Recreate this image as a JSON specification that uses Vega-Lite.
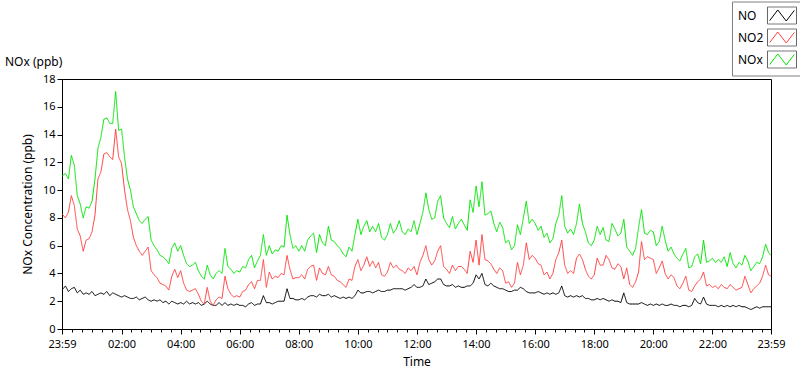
{
  "$schema": "https://vega.github.io/schema/vega-lite/v6.json",
  "width": 709,
  "height": 250,
  "autosize": "none",
  "padding": {"left": 62, "top": 79, "right": 29, "bottom": 40},
  "background": "white",
  "config": {
    "font": "Noto Sans",
    "view": {"stroke": "#000000", "strokeWidth": 1},
    "axis": {"labelFont": "Noto Sans", "titleFont": "Noto Sans", "labelColor": "#000", "titleColor": "#000", "tickColor": "#000", "domainColor": "#000", "grid": false, "labelFontSize": 11, "titleFontSize": 12, "titleFontWeight": "normal"}
  },
  "title": {"text": "NOx (ppb)", "anchor": "start", "frame": "group", "dx": -57, "offset": -67.5, "fontSize": 12, "fontWeight": "normal", "color": "#000", "font": "Noto Sans"},
  "data": {"values": [
    {"t":"2024-01-01T23:59","NO":2.8,"NO2":8.3,"NOx":11.0},
    {"t":"2024-01-02T00:06","NO":3.1,"NO2":8.0,"NOx":11.2},
    {"t":"2024-01-02T00:12","NO":2.7,"NO2":8.4,"NOx":10.8},
    {"t":"2024-01-02T00:18","NO":2.9,"NO2":9.6,"NOx":12.5},
    {"t":"2024-01-02T00:24","NO":3.0,"NO2":8.9,"NOx":11.8},
    {"t":"2024-01-02T00:30","NO":2.6,"NO2":7.2,"NOx":9.6},
    {"t":"2024-01-02T00:36","NO":2.8,"NO2":6.7,"NOx":9.0},
    {"t":"2024-01-02T00:42","NO":2.5,"NO2":5.6,"NOx":8.0},
    {"t":"2024-01-02T00:48","NO":2.6,"NO2":6.4,"NOx":8.8},
    {"t":"2024-01-02T00:54","NO":2.5,"NO2":6.5,"NOx":8.7},
    {"t":"2024-01-02T01:00","NO":2.7,"NO2":7.0,"NOx":9.2},
    {"t":"2024-01-02T01:06","NO":2.4,"NO2":8.2,"NOx":10.8},
    {"t":"2024-01-02T01:12","NO":2.5,"NO2":10.8,"NOx":13.0},
    {"t":"2024-01-02T01:18","NO":2.6,"NO2":11.3,"NOx":13.8},
    {"t":"2024-01-02T01:24","NO":2.5,"NO2":12.6,"NOx":15.1},
    {"t":"2024-01-02T01:30","NO":2.7,"NO2":12.7,"NOx":15.2},
    {"t":"2024-01-02T01:36","NO":2.4,"NO2":12.4,"NOx":14.8},
    {"t":"2024-01-02T01:42","NO":2.6,"NO2":12.2,"NOx":14.8},
    {"t":"2024-01-02T01:48","NO":2.5,"NO2":14.4,"NOx":17.1},
    {"t":"2024-01-02T01:54","NO":2.4,"NO2":12.4,"NOx":14.3},
    {"t":"2024-01-02T02:00","NO":2.3,"NO2":11.9,"NOx":14.4},
    {"t":"2024-01-02T02:06","NO":2.4,"NO2":10.0,"NOx":12.4},
    {"t":"2024-01-02T02:12","NO":2.3,"NO2":8.6,"NOx":10.8},
    {"t":"2024-01-02T02:18","NO":2.2,"NO2":7.8,"NOx":10.0},
    {"t":"2024-01-02T02:24","NO":2.2,"NO2":6.6,"NOx":8.8},
    {"t":"2024-01-02T02:30","NO":2.3,"NO2":6.0,"NOx":8.3},
    {"t":"2024-01-02T02:36","NO":2.1,"NO2":5.6,"NOx":7.8},
    {"t":"2024-01-02T02:42","NO":2.2,"NO2":5.3,"NOx":7.6},
    {"t":"2024-01-02T02:48","NO":2.3,"NO2":5.6,"NOx":7.9},
    {"t":"2024-01-02T02:54","NO":2.1,"NO2":5.9,"NOx":8.1},
    {"t":"2024-01-02T03:00","NO":2.0,"NO2":4.2,"NOx":6.4},
    {"t":"2024-01-02T03:06","NO":2.1,"NO2":3.9,"NOx":6.0},
    {"t":"2024-01-02T03:12","NO":2.0,"NO2":3.7,"NOx":5.7},
    {"t":"2024-01-02T03:18","NO":2.1,"NO2":3.3,"NOx":5.3},
    {"t":"2024-01-02T03:24","NO":1.9,"NO2":3.2,"NOx":5.2},
    {"t":"2024-01-02T03:30","NO":2.0,"NO2":3.1,"NOx":5.0},
    {"t":"2024-01-02T03:36","NO":1.8,"NO2":2.8,"NOx":4.7},
    {"t":"2024-01-02T03:42","NO":2.0,"NO2":3.8,"NOx":5.8},
    {"t":"2024-01-02T03:48","NO":1.9,"NO2":4.3,"NOx":6.2},
    {"t":"2024-01-02T03:54","NO":1.8,"NO2":3.7,"NOx":5.6},
    {"t":"2024-01-02T04:00","NO":1.9,"NO2":4.2,"NOx":6.0},
    {"t":"2024-01-02T04:06","NO":1.8,"NO2":3.3,"NOx":5.3},
    {"t":"2024-01-02T04:12","NO":2.0,"NO2":2.8,"NOx":4.7},
    {"t":"2024-01-02T04:18","NO":1.8,"NO2":2.7,"NOx":4.5},
    {"t":"2024-01-02T04:24","NO":1.9,"NO2":2.8,"NOx":4.6},
    {"t":"2024-01-02T04:30","NO":1.8,"NO2":2.9,"NOx":4.8},
    {"t":"2024-01-02T04:36","NO":1.9,"NO2":2.5,"NOx":4.2},
    {"t":"2024-01-02T04:42","NO":1.7,"NO2":2.0,"NOx":3.8},
    {"t":"2024-01-02T04:48","NO":1.8,"NO2":1.8,"NOx":3.6},
    {"t":"2024-01-02T04:54","NO":2.0,"NO2":3.0,"NOx":4.6},
    {"t":"2024-01-02T05:00","NO":1.8,"NO2":2.0,"NOx":3.9},
    {"t":"2024-01-02T05:06","NO":1.7,"NO2":1.7,"NOx":3.6},
    {"t":"2024-01-02T05:12","NO":1.7,"NO2":2.1,"NOx":4.0},
    {"t":"2024-01-02T05:18","NO":1.9,"NO2":2.3,"NOx":4.2},
    {"t":"2024-01-02T05:24","NO":1.7,"NO2":2.2,"NOx":4.0},
    {"t":"2024-01-02T05:30","NO":1.9,"NO2":3.8,"NOx":5.8},
    {"t":"2024-01-02T05:36","NO":1.7,"NO2":2.9,"NOx":4.5},
    {"t":"2024-01-02T05:42","NO":1.8,"NO2":2.5,"NOx":4.3},
    {"t":"2024-01-02T05:48","NO":1.7,"NO2":2.3,"NOx":4.0},
    {"t":"2024-01-02T05:54","NO":1.8,"NO2":2.4,"NOx":4.2},
    {"t":"2024-01-02T06:00","NO":1.7,"NO2":2.3,"NOx":4.1},
    {"t":"2024-01-02T06:06","NO":1.7,"NO2":2.7,"NOx":4.5},
    {"t":"2024-01-02T06:12","NO":1.6,"NO2":2.8,"NOx":4.4},
    {"t":"2024-01-02T06:18","NO":1.8,"NO2":3.2,"NOx":5.0},
    {"t":"2024-01-02T06:24","NO":1.9,"NO2":3.4,"NOx":5.3},
    {"t":"2024-01-02T06:30","NO":1.7,"NO2":2.9,"NOx":4.4},
    {"t":"2024-01-02T06:36","NO":1.8,"NO2":3.5,"NOx":4.9},
    {"t":"2024-01-02T06:42","NO":1.8,"NO2":3.5,"NOx":5.3},
    {"t":"2024-01-02T06:48","NO":2.4,"NO2":5.0,"NOx":6.8},
    {"t":"2024-01-02T06:54","NO":1.9,"NO2":3.0,"NOx":5.3},
    {"t":"2024-01-02T07:00","NO":1.9,"NO2":4.1,"NOx":6.0},
    {"t":"2024-01-02T07:06","NO":1.8,"NO2":3.6,"NOx":5.4},
    {"t":"2024-01-02T07:12","NO":1.9,"NO2":3.8,"NOx":5.7},
    {"t":"2024-01-02T07:18","NO":2.0,"NO2":3.7,"NOx":5.6},
    {"t":"2024-01-02T07:24","NO":2.0,"NO2":4.0,"NOx":6.0},
    {"t":"2024-01-02T07:30","NO":2.0,"NO2":3.9,"NOx":5.9},
    {"t":"2024-01-02T07:36","NO":2.9,"NO2":5.3,"NOx":8.2},
    {"t":"2024-01-02T07:42","NO":2.2,"NO2":4.3,"NOx":6.8},
    {"t":"2024-01-02T07:48","NO":2.2,"NO2":3.6,"NOx":5.8},
    {"t":"2024-01-02T07:54","NO":2.1,"NO2":3.7,"NOx":6.0},
    {"t":"2024-01-02T08:00","NO":2.1,"NO2":3.7,"NOx":5.6},
    {"t":"2024-01-02T08:06","NO":2.2,"NO2":3.9,"NOx":6.0},
    {"t":"2024-01-02T08:12","NO":2.1,"NO2":3.6,"NOx":5.6},
    {"t":"2024-01-02T08:18","NO":2.3,"NO2":4.3,"NOx":6.4},
    {"t":"2024-01-02T08:24","NO":2.4,"NO2":4.5,"NOx":6.7},
    {"t":"2024-01-02T08:30","NO":2.4,"NO2":4.6,"NOx":6.9},
    {"t":"2024-01-02T08:36","NO":2.3,"NO2":3.5,"NOx":5.5},
    {"t":"2024-01-02T08:42","NO":2.5,"NO2":4.4,"NOx":6.8},
    {"t":"2024-01-02T08:48","NO":2.4,"NO2":4.0,"NOx":6.2},
    {"t":"2024-01-02T08:54","NO":2.4,"NO2":3.9,"NOx":6.0},
    {"t":"2024-01-02T09:00","NO":2.5,"NO2":4.5,"NOx":7.4},
    {"t":"2024-01-02T09:06","NO":2.3,"NO2":3.9,"NOx":6.4},
    {"t":"2024-01-02T09:12","NO":2.4,"NO2":3.8,"NOx":6.3},
    {"t":"2024-01-02T09:18","NO":2.3,"NO2":3.5,"NOx":6.0},
    {"t":"2024-01-02T09:24","NO":2.2,"NO2":3.4,"NOx":5.8},
    {"t":"2024-01-02T09:30","NO":2.3,"NO2":3.2,"NOx":5.4},
    {"t":"2024-01-02T09:36","NO":2.2,"NO2":3.0,"NOx":5.2},
    {"t":"2024-01-02T09:42","NO":2.3,"NO2":3.6,"NOx":5.9},
    {"t":"2024-01-02T09:48","NO":2.2,"NO2":3.5,"NOx":5.6},
    {"t":"2024-01-02T09:54","NO":2.4,"NO2":4.5,"NOx":6.8},
    {"t":"2024-01-02T10:00","NO":2.8,"NO2":5.0,"NOx":7.9},
    {"t":"2024-01-02T10:06","NO":2.6,"NO2":4.2,"NOx":6.8},
    {"t":"2024-01-02T10:12","NO":2.6,"NO2":4.6,"NOx":7.4},
    {"t":"2024-01-02T10:18","NO":2.7,"NO2":5.2,"NOx":7.8},
    {"t":"2024-01-02T10:24","NO":2.7,"NO2":4.5,"NOx":7.0},
    {"t":"2024-01-02T10:30","NO":2.6,"NO2":4.9,"NOx":7.4},
    {"t":"2024-01-02T10:36","NO":2.7,"NO2":4.4,"NOx":7.0},
    {"t":"2024-01-02T10:42","NO":2.8,"NO2":4.8,"NOx":7.6},
    {"t":"2024-01-02T10:48","NO":2.7,"NO2":3.9,"NOx":6.6},
    {"t":"2024-01-02T10:54","NO":2.7,"NO2":3.8,"NOx":6.4},
    {"t":"2024-01-02T11:00","NO":2.8,"NO2":4.1,"NOx":6.8},
    {"t":"2024-01-02T11:06","NO":2.8,"NO2":4.8,"NOx":7.6},
    {"t":"2024-01-02T11:12","NO":2.9,"NO2":4.4,"NOx":6.9},
    {"t":"2024-01-02T11:18","NO":2.9,"NO2":4.6,"NOx":7.2},
    {"t":"2024-01-02T11:24","NO":2.9,"NO2":4.3,"NOx":7.8},
    {"t":"2024-01-02T11:30","NO":2.9,"NO2":4.2,"NOx":7.0},
    {"t":"2024-01-02T11:36","NO":2.8,"NO2":4.0,"NOx":6.8},
    {"t":"2024-01-02T11:42","NO":2.9,"NO2":4.4,"NOx":7.2},
    {"t":"2024-01-02T11:48","NO":3.0,"NO2":4.2,"NOx":7.0},
    {"t":"2024-01-02T11:54","NO":3.2,"NO2":4.5,"NOx":7.8},
    {"t":"2024-01-02T12:00","NO":3.0,"NO2":3.9,"NOx":6.8},
    {"t":"2024-01-02T12:06","NO":3.0,"NO2":4.8,"NOx":7.6},
    {"t":"2024-01-02T12:12","NO":3.1,"NO2":5.3,"NOx":8.4},
    {"t":"2024-01-02T12:18","NO":3.6,"NO2":6.0,"NOx":9.8},
    {"t":"2024-01-02T12:24","NO":3.2,"NO2":5.0,"NOx":8.6},
    {"t":"2024-01-02T12:30","NO":3.3,"NO2":4.6,"NOx":7.9},
    {"t":"2024-01-02T12:36","NO":3.4,"NO2":4.9,"NOx":8.0},
    {"t":"2024-01-02T12:42","NO":3.6,"NO2":5.6,"NOx":9.2},
    {"t":"2024-01-02T12:48","NO":3.6,"NO2":6.0,"NOx":9.6},
    {"t":"2024-01-02T12:54","NO":3.2,"NO2":4.5,"NOx":8.0},
    {"t":"2024-01-02T13:00","NO":3.1,"NO2":4.3,"NOx":7.6},
    {"t":"2024-01-02T13:06","NO":3.1,"NO2":4.0,"NOx":7.3},
    {"t":"2024-01-02T13:12","NO":3.2,"NO2":4.6,"NOx":8.1},
    {"t":"2024-01-02T13:18","NO":3.0,"NO2":4.2,"NOx":7.2},
    {"t":"2024-01-02T13:24","NO":3.1,"NO2":4.5,"NOx":7.6},
    {"t":"2024-01-02T13:30","NO":3.0,"NO2":4.5,"NOx":7.9},
    {"t":"2024-01-02T13:36","NO":3.0,"NO2":4.3,"NOx":7.5},
    {"t":"2024-01-02T13:42","NO":3.1,"NO2":4.0,"NOx":7.1},
    {"t":"2024-01-02T13:48","NO":3.1,"NO2":5.6,"NOx":9.3},
    {"t":"2024-01-02T13:54","NO":3.3,"NO2":4.8,"NOx":8.4},
    {"t":"2024-01-02T14:00","NO":3.9,"NO2":6.4,"NOx":10.3},
    {"t":"2024-01-02T14:06","NO":3.6,"NO2":4.6,"NOx":8.8},
    {"t":"2024-01-02T14:12","NO":4.0,"NO2":6.8,"NOx":10.6},
    {"t":"2024-01-02T14:18","NO":3.2,"NO2":5.0,"NOx":8.2},
    {"t":"2024-01-02T14:24","NO":3.1,"NO2":4.9,"NOx":8.3},
    {"t":"2024-01-02T14:30","NO":3.3,"NO2":4.7,"NOx":8.5},
    {"t":"2024-01-02T14:36","NO":3.1,"NO2":4.3,"NOx":7.6},
    {"t":"2024-01-02T14:42","NO":3.0,"NO2":4.0,"NOx":7.0},
    {"t":"2024-01-02T14:48","NO":2.9,"NO2":4.4,"NOx":7.7},
    {"t":"2024-01-02T14:54","NO":2.9,"NO2":4.2,"NOx":7.3},
    {"t":"2024-01-02T15:00","NO":2.8,"NO2":3.3,"NOx":6.2},
    {"t":"2024-01-02T15:06","NO":2.7,"NO2":3.4,"NOx":6.4},
    {"t":"2024-01-02T15:12","NO":2.7,"NO2":3.0,"NOx":5.7},
    {"t":"2024-01-02T15:18","NO":2.8,"NO2":3.3,"NOx":6.0},
    {"t":"2024-01-02T15:24","NO":2.8,"NO2":4.8,"NOx":7.5},
    {"t":"2024-01-02T15:30","NO":3.0,"NO2":3.9,"NOx":6.8},
    {"t":"2024-01-02T15:36","NO":2.9,"NO2":4.6,"NOx":8.0},
    {"t":"2024-01-02T15:42","NO":2.7,"NO2":6.2,"NOx":9.2},
    {"t":"2024-01-02T15:48","NO":2.6,"NO2":5.0,"NOx":7.6},
    {"t":"2024-01-02T15:54","NO":2.6,"NO2":5.3,"NOx":7.9},
    {"t":"2024-01-02T16:00","NO":2.6,"NO2":5.1,"NOx":7.6},
    {"t":"2024-01-02T16:06","NO":2.7,"NO2":4.7,"NOx":7.1},
    {"t":"2024-01-02T16:12","NO":2.6,"NO2":4.6,"NOx":7.4},
    {"t":"2024-01-02T16:18","NO":2.5,"NO2":3.9,"NOx":6.6},
    {"t":"2024-01-02T16:24","NO":2.6,"NO2":4.1,"NOx":6.9},
    {"t":"2024-01-02T16:30","NO":2.5,"NO2":3.6,"NOx":6.2},
    {"t":"2024-01-02T16:36","NO":2.6,"NO2":4.0,"NOx":6.5},
    {"t":"2024-01-02T16:42","NO":2.5,"NO2":5.0,"NOx":7.6},
    {"t":"2024-01-02T16:48","NO":2.6,"NO2":5.5,"NOx":8.2},
    {"t":"2024-01-02T16:54","NO":3.1,"NO2":6.4,"NOx":9.6},
    {"t":"2024-01-02T17:00","NO":2.4,"NO2":4.6,"NOx":7.4},
    {"t":"2024-01-02T17:06","NO":2.3,"NO2":4.0,"NOx":6.9},
    {"t":"2024-01-02T17:12","NO":2.4,"NO2":4.2,"NOx":7.2},
    {"t":"2024-01-02T17:18","NO":2.3,"NO2":4.0,"NOx":6.8},
    {"t":"2024-01-02T17:24","NO":2.4,"NO2":5.1,"NOx":7.6},
    {"t":"2024-01-02T17:30","NO":2.3,"NO2":5.4,"NOx":9.0},
    {"t":"2024-01-02T17:36","NO":2.4,"NO2":5.0,"NOx":7.6},
    {"t":"2024-01-02T17:42","NO":2.2,"NO2":4.3,"NOx":7.0},
    {"t":"2024-01-02T17:48","NO":2.2,"NO2":3.8,"NOx":6.2},
    {"t":"2024-01-02T17:54","NO":2.1,"NO2":3.6,"NOx":6.0},
    {"t":"2024-01-02T18:00","NO":2.1,"NO2":3.9,"NOx":6.4},
    {"t":"2024-01-02T18:06","NO":2.2,"NO2":5.1,"NOx":7.4},
    {"t":"2024-01-02T18:12","NO":2.1,"NO2":4.6,"NOx":6.8},
    {"t":"2024-01-02T18:18","NO":2.2,"NO2":4.6,"NOx":7.3},
    {"t":"2024-01-02T18:24","NO":2.1,"NO2":5.3,"NOx":6.4},
    {"t":"2024-01-02T18:30","NO":2.0,"NO2":5.0,"NOx":6.3},
    {"t":"2024-01-02T18:36","NO":2.1,"NO2":4.4,"NOx":7.6},
    {"t":"2024-01-02T18:42","NO":2.0,"NO2":4.3,"NOx":7.2},
    {"t":"2024-01-02T18:48","NO":2.0,"NO2":4.7,"NOx":6.7},
    {"t":"2024-01-02T18:54","NO":1.9,"NO2":4.5,"NOx":6.9},
    {"t":"2024-01-02T19:00","NO":2.6,"NO2":3.6,"NOx":7.9},
    {"t":"2024-01-02T19:06","NO":1.9,"NO2":4.4,"NOx":5.9},
    {"t":"2024-01-02T19:12","NO":1.8,"NO2":3.2,"NOx":5.6},
    {"t":"2024-01-02T19:18","NO":1.8,"NO2":3.0,"NOx":5.3},
    {"t":"2024-01-02T19:24","NO":1.8,"NO2":3.4,"NOx":5.8},
    {"t":"2024-01-02T19:30","NO":1.8,"NO2":4.1,"NOx":7.3},
    {"t":"2024-01-02T19:36","NO":1.9,"NO2":6.3,"NOx":8.6},
    {"t":"2024-01-02T19:42","NO":1.8,"NO2":5.0,"NOx":6.9},
    {"t":"2024-01-02T19:48","NO":1.7,"NO2":5.2,"NOx":6.8},
    {"t":"2024-01-02T19:54","NO":1.8,"NO2":5.1,"NOx":7.1},
    {"t":"2024-01-02T20:00","NO":1.7,"NO2":5.0,"NOx":7.0},
    {"t":"2024-01-02T20:06","NO":1.8,"NO2":4.0,"NOx":6.0},
    {"t":"2024-01-02T20:12","NO":1.7,"NO2":4.4,"NOx":6.3},
    {"t":"2024-01-02T20:18","NO":1.8,"NO2":4.9,"NOx":7.4},
    {"t":"2024-01-02T20:24","NO":1.7,"NO2":4.0,"NOx":6.4},
    {"t":"2024-01-02T20:30","NO":1.7,"NO2":3.6,"NOx":5.6},
    {"t":"2024-01-02T20:36","NO":1.8,"NO2":3.9,"NOx":5.9},
    {"t":"2024-01-02T20:42","NO":1.7,"NO2":3.7,"NOx":5.4},
    {"t":"2024-01-02T20:48","NO":1.7,"NO2":3.1,"NOx":5.1},
    {"t":"2024-01-02T20:54","NO":1.6,"NO2":2.9,"NOx":4.9},
    {"t":"2024-01-02T21:00","NO":1.7,"NO2":3.3,"NOx":5.4},
    {"t":"2024-01-02T21:06","NO":1.7,"NO2":3.8,"NOx":5.8},
    {"t":"2024-01-02T21:12","NO":1.6,"NO2":2.8,"NOx":4.4},
    {"t":"2024-01-02T21:18","NO":1.7,"NO2":2.7,"NOx":4.5},
    {"t":"2024-01-02T21:24","NO":2.2,"NO2":3.1,"NOx":5.2},
    {"t":"2024-01-02T21:30","NO":1.9,"NO2":3.4,"NOx":5.4},
    {"t":"2024-01-02T21:36","NO":1.8,"NO2":3.6,"NOx":4.7},
    {"t":"2024-01-02T21:42","NO":2.3,"NO2":4.1,"NOx":6.4},
    {"t":"2024-01-02T21:48","NO":1.8,"NO2":3.1,"NOx":4.8},
    {"t":"2024-01-02T21:54","NO":1.7,"NO2":3.2,"NOx":4.9},
    {"t":"2024-01-02T22:00","NO":1.7,"NO2":3.0,"NOx":5.1},
    {"t":"2024-01-02T22:06","NO":1.7,"NO2":3.1,"NOx":4.8},
    {"t":"2024-01-02T22:12","NO":1.6,"NO2":2.9,"NOx":5.0},
    {"t":"2024-01-02T22:18","NO":1.7,"NO2":3.2,"NOx":4.8},
    {"t":"2024-01-02T22:24","NO":1.6,"NO2":3.0,"NOx":5.2},
    {"t":"2024-01-02T22:30","NO":1.7,"NO2":2.9,"NOx":4.5},
    {"t":"2024-01-02T22:36","NO":1.6,"NO2":3.2,"NOx":5.5},
    {"t":"2024-01-02T22:42","NO":1.7,"NO2":3.0,"NOx":4.7},
    {"t":"2024-01-02T22:48","NO":1.6,"NO2":2.8,"NOx":4.4},
    {"t":"2024-01-02T22:54","NO":1.7,"NO2":2.9,"NOx":4.8},
    {"t":"2024-01-02T23:00","NO":1.6,"NO2":3.0,"NOx":4.6},
    {"t":"2024-01-02T23:06","NO":1.6,"NO2":3.8,"NOx":5.3},
    {"t":"2024-01-02T23:12","NO":1.5,"NO2":3.2,"NOx":4.9},
    {"t":"2024-01-02T23:18","NO":1.4,"NO2":2.6,"NOx":4.2},
    {"t":"2024-01-02T23:24","NO":1.5,"NO2":2.9,"NOx":4.5},
    {"t":"2024-01-02T23:30","NO":1.6,"NO2":3.1,"NOx":4.8},
    {"t":"2024-01-02T23:36","NO":1.5,"NO2":3.3,"NOx":4.7},
    {"t":"2024-01-02T23:42","NO":1.6,"NO2":3.8,"NOx":5.2},
    {"t":"2024-01-02T23:48","NO":1.6,"NO2":4.6,"NOx":6.1},
    {"t":"2024-01-02T23:54","NO":1.6,"NO2":3.9,"NOx":5.5},
    {"t":"2024-01-02T23:59","NO":1.6,"NO2":3.8,"NOx":5.3}
  ]},
  "transform": [{"fold": ["NO", "NO2", "NOx"], "as": ["series", "value"]}],
  "mark": {"type": "line", "strokeWidth": 1, "clip": true},
  "encoding": {
    "x": {
      "field": "t", "type": "temporal",
      "scale": {"domain": [{"year":2024,"month":1,"date":1,"hours":23,"minutes":59}, {"year":2024,"month":1,"date":2,"hours":23,"minutes":59}]},
      "axis": {
        "title": "Time", "titlePadding": 7, "labelPadding": 4, "labelOverlap": false, "labelFlush": false,
        "labelExpr": "(minutes(datum.value) == 59 || (minutes(datum.value) == 0 && hours(datum.value) % 2 == 0)) ? timeFormat(datum.value, '%H:%M') : ''",
        "tickSize": {"condition": {"test": "minutes(datum.value) == 59 || (minutes(datum.value) == 0 && hours(datum.value) % 2 == 0)", "value": 5}, "value": 3},
        "values": [
          {"year":2024,"month":1,"date":1,"hours":23,"minutes":59},
          {"year":2024,"month":1,"date":2,"hours":0,"minutes":20},{"year":2024,"month":1,"date":2,"hours":0,"minutes":40},
          {"year":2024,"month":1,"date":2,"hours":1,"minutes":0},{"year":2024,"month":1,"date":2,"hours":1,"minutes":20},{"year":2024,"month":1,"date":2,"hours":1,"minutes":40},
          {"year":2024,"month":1,"date":2,"hours":2,"minutes":0},{"year":2024,"month":1,"date":2,"hours":2,"minutes":20},{"year":2024,"month":1,"date":2,"hours":2,"minutes":40},
          {"year":2024,"month":1,"date":2,"hours":3,"minutes":0},{"year":2024,"month":1,"date":2,"hours":3,"minutes":20},{"year":2024,"month":1,"date":2,"hours":3,"minutes":40},
          {"year":2024,"month":1,"date":2,"hours":4,"minutes":0},{"year":2024,"month":1,"date":2,"hours":4,"minutes":20},{"year":2024,"month":1,"date":2,"hours":4,"minutes":40},
          {"year":2024,"month":1,"date":2,"hours":5,"minutes":0},{"year":2024,"month":1,"date":2,"hours":5,"minutes":20},{"year":2024,"month":1,"date":2,"hours":5,"minutes":40},
          {"year":2024,"month":1,"date":2,"hours":6,"minutes":0},{"year":2024,"month":1,"date":2,"hours":6,"minutes":20},{"year":2024,"month":1,"date":2,"hours":6,"minutes":40},
          {"year":2024,"month":1,"date":2,"hours":7,"minutes":0},{"year":2024,"month":1,"date":2,"hours":7,"minutes":20},{"year":2024,"month":1,"date":2,"hours":7,"minutes":40},
          {"year":2024,"month":1,"date":2,"hours":8,"minutes":0},{"year":2024,"month":1,"date":2,"hours":8,"minutes":20},{"year":2024,"month":1,"date":2,"hours":8,"minutes":40},
          {"year":2024,"month":1,"date":2,"hours":9,"minutes":0},{"year":2024,"month":1,"date":2,"hours":9,"minutes":20},{"year":2024,"month":1,"date":2,"hours":9,"minutes":40},
          {"year":2024,"month":1,"date":2,"hours":10,"minutes":0},{"year":2024,"month":1,"date":2,"hours":10,"minutes":20},{"year":2024,"month":1,"date":2,"hours":10,"minutes":40},
          {"year":2024,"month":1,"date":2,"hours":11,"minutes":0},{"year":2024,"month":1,"date":2,"hours":11,"minutes":20},{"year":2024,"month":1,"date":2,"hours":11,"minutes":40},
          {"year":2024,"month":1,"date":2,"hours":12,"minutes":0},{"year":2024,"month":1,"date":2,"hours":12,"minutes":20},{"year":2024,"month":1,"date":2,"hours":12,"minutes":40},
          {"year":2024,"month":1,"date":2,"hours":13,"minutes":0},{"year":2024,"month":1,"date":2,"hours":13,"minutes":20},{"year":2024,"month":1,"date":2,"hours":13,"minutes":40},
          {"year":2024,"month":1,"date":2,"hours":14,"minutes":0},{"year":2024,"month":1,"date":2,"hours":14,"minutes":20},{"year":2024,"month":1,"date":2,"hours":14,"minutes":40},
          {"year":2024,"month":1,"date":2,"hours":15,"minutes":0},{"year":2024,"month":1,"date":2,"hours":15,"minutes":20},{"year":2024,"month":1,"date":2,"hours":15,"minutes":40},
          {"year":2024,"month":1,"date":2,"hours":16,"minutes":0},{"year":2024,"month":1,"date":2,"hours":16,"minutes":20},{"year":2024,"month":1,"date":2,"hours":16,"minutes":40},
          {"year":2024,"month":1,"date":2,"hours":17,"minutes":0},{"year":2024,"month":1,"date":2,"hours":17,"minutes":20},{"year":2024,"month":1,"date":2,"hours":17,"minutes":40},
          {"year":2024,"month":1,"date":2,"hours":18,"minutes":0},{"year":2024,"month":1,"date":2,"hours":18,"minutes":20},{"year":2024,"month":1,"date":2,"hours":18,"minutes":40},
          {"year":2024,"month":1,"date":2,"hours":19,"minutes":0},{"year":2024,"month":1,"date":2,"hours":19,"minutes":20},{"year":2024,"month":1,"date":2,"hours":19,"minutes":40},
          {"year":2024,"month":1,"date":2,"hours":20,"minutes":0},{"year":2024,"month":1,"date":2,"hours":20,"minutes":20},{"year":2024,"month":1,"date":2,"hours":20,"minutes":40},
          {"year":2024,"month":1,"date":2,"hours":21,"minutes":0},{"year":2024,"month":1,"date":2,"hours":21,"minutes":20},{"year":2024,"month":1,"date":2,"hours":21,"minutes":40},
          {"year":2024,"month":1,"date":2,"hours":22,"minutes":0},{"year":2024,"month":1,"date":2,"hours":22,"minutes":20},{"year":2024,"month":1,"date":2,"hours":22,"minutes":40},
          {"year":2024,"month":1,"date":2,"hours":23,"minutes":0},{"year":2024,"month":1,"date":2,"hours":23,"minutes":20},{"year":2024,"month":1,"date":2,"hours":23,"minutes":40},
          {"year":2024,"month":1,"date":2,"hours":23,"minutes":59}
        ]
      }
    },
    "y": {
      "field": "value", "type": "quantitative",
      "scale": {"domain": [0, 18], "nice": false},
      "axis": {"title": "NOx Concentration (ppb)", "values": [0,2,4,6,8,10,12,14,16,18], "tickSize": 5, "labelPadding": 2, "titlePadding": 8}
    },
    "color": {
      "field": "series", "type": "nominal",
      "scale": {"range": ["#000000", "#ff4040", "#00e600"]},
      "legend": {
        "orient": "none", "legendX": 670, "legendY": -77.5, "title": null,
        "symbolType": "M-1.706,-1M1.706,1M-1.45,0.6L-0.5,-0.65L0.5,0.65L1.45,-0.6",
        "symbolSize": 289, "symbolStrokeWidth": 1, "symbolFillColor": "transparent",
        "symbolOffset": 36, "labelOffset": -53, "rowPadding": 0, "padding": 5,
        "labelFontSize": 12, "labelColor": "#000", "labelFont": "Noto Sans",
        "strokeColor": "#808080", "fillColor": "white"
      }
    },
    "strokeDash": {
      "field": "series", "type": "nominal",
      "scale": {"domain": ["NO", "NO2", "NOx"], "range": [[1, 0], [1, 0], [1, 0]]},
      "legend": {
        "orient": "none", "legendX": 670, "legendY": -77.5, "title": null,
        "symbolType": "M-1.706,-1H1.706V1H-1.706Z",
        "symbolSize": 289, "symbolStrokeWidth": 1, "symbolStrokeColor": "#666666", "symbolFillColor": "transparent",
        "symbolOffset": 36, "labelOffset": -53, "rowPadding": 0, "padding": 5,
        "labelFontSize": 12, "labelExpr": "''", "labelFont": "Noto Sans"
      }
    }
  }
}
